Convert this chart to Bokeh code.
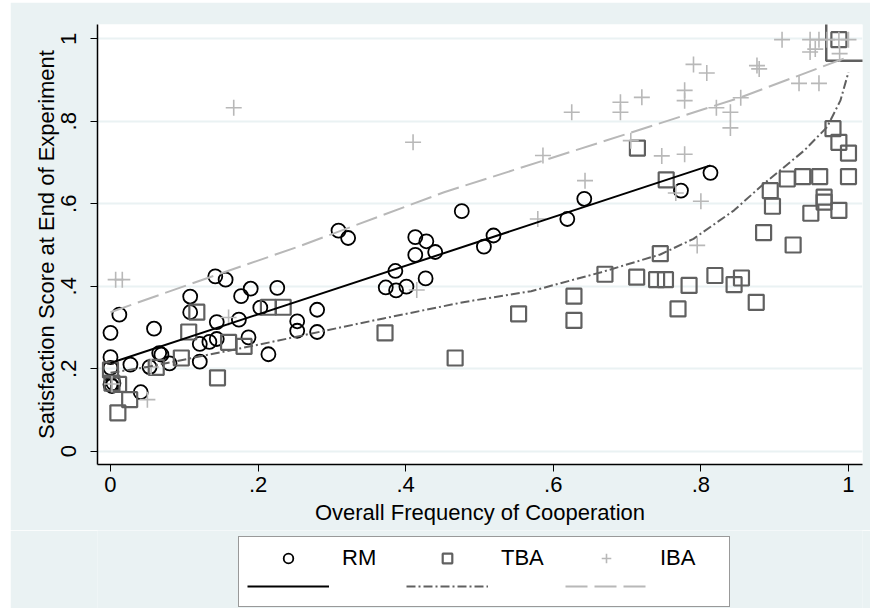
from bokeh.plotting import figure
from bokeh.layouts import column
from bokeh.models import Range1d, FixedTicker, CustomJSTickFormatter, Legend, LegendItem
from bokeh.embed import file_html
from bokeh.resources import INLINE

FONT = "Liberation Sans"

# ---- data ----
rm_x = [0.0, 0.012, 0.0, 0.0, 0.0, 0.002, 0.004, 0.027, 0.041, 0.053, 0.059, 0.066, 0.069,
        0.080, 0.108, 0.108, 0.121, 0.121, 0.134, 0.144, 0.144, 0.142, 0.156, 0.174, 0.177,
        0.190, 0.187, 0.203, 0.214, 0.226, 0.253, 0.253, 0.280, 0.280, 0.309, 0.322, 0.373,
        0.387, 0.401, 0.386, 0.413, 0.413, 0.428, 0.440, 0.427, 0.476, 0.506, 0.519, 0.619,
        0.642, 0.773, 0.813]
rm_y = [0.287, 0.331, 0.228, 0.202, 0.162, 0.158, 0.165, 0.210, 0.143, 0.204, 0.297, 0.238, 0.234,
        0.213, 0.375, 0.337, 0.260, 0.217, 0.265, 0.272, 0.313, 0.424, 0.416, 0.319, 0.376,
        0.394, 0.276, 0.348, 0.235, 0.396, 0.315, 0.292, 0.343, 0.289, 0.535, 0.517, 0.397,
        0.390, 0.399, 0.437, 0.476, 0.519, 0.509, 0.483, 0.419, 0.582, 0.496, 0.523, 0.563,
        0.612, 0.632, 0.675]

tba_x = [0.0, 0.002, 0.011, 0.026, 0.010, 0.062, 0.096, 0.106, 0.117, 0.145, 0.160, 0.181,
         0.214, 0.234, 0.372, 0.467, 0.553, 0.628, 0.628, 0.670, 0.713, 0.740, 0.752, 0.745,
         0.769, 0.753, 0.784, 0.819, 0.845, 0.855, 0.875, 0.885, 0.925, 0.894, 0.897, 0.917,
         0.938, 0.961, 1.0, 0.949, 0.967, 0.967, 0.987, 0.714, 0.979, 0.987, 1.0, 0.987]
tba_y = [0.197, 0.165, 0.162, 0.125, 0.093, 0.203, 0.226, 0.289, 0.337, 0.178, 0.264, 0.254,
         0.349, 0.349, 0.287, 0.226, 0.333, 0.376, 0.317, 0.429, 0.422, 0.416, 0.416, 0.479,
         0.345, 0.658, 0.402, 0.426, 0.404, 0.420, 0.361, 0.530, 0.500, 0.632, 0.594, 0.660,
         0.666, 0.666, 0.666, 0.577, 0.616, 0.604, 0.584, 0.735, 0.782, 0.749, 0.723, 0.998]
tba_big_x = [0.999]
tba_big_y = [0.999]

iba_x = [0.007, 0.016, 0.167, 0.002, 0.050, 0.055, 0.160, 0.410, 0.415, 0.579, 0.586, 0.625,
         0.643, 0.691, 0.691, 0.720, 0.705, 0.747, 0.778, 0.778, 0.778, 0.790, 0.808, 0.821,
         0.840, 0.840, 0.854, 0.876, 0.879, 0.910, 0.933, 0.960, 0.948, 0.960, 0.948, 0.955,
         0.971, 0.987, 1.0, 0.988, 0.766, 0.800, 0.795]
iba_y = [0.416, 0.416, 0.833, 0.163, 0.125, 0.204, 0.324, 0.749, 0.391, 0.563, 0.717, 0.822,
         0.656, 0.846, 0.822, 0.858, 0.753, 0.716, 0.720, 0.875, 0.850, 0.938, 0.917, 0.833,
         0.822, 0.784, 0.857, 0.935, 0.927, 0.998, 0.892, 0.892, 0.998, 0.998, 0.968, 0.975,
         0.998, 0.998, 0.998, 0.964, 0.626, 0.606, 0.499]

rm_fit_x = [0.0, 0.813]
rm_fit_y = [0.214, 0.693]
tba_fit_x = [0.0, 0.052, 0.2, 0.37, 0.48, 0.57, 0.665, 0.745, 0.79, 0.845, 0.885, 0.94, 0.971, 0.989, 1.0]
tba_fit_y = [0.19, 0.205, 0.258, 0.322, 0.362, 0.388, 0.434, 0.477, 0.515, 0.584, 0.648, 0.729, 0.786, 0.85, 0.919]
iba_fit_x = [0.0, 0.122, 0.253, 0.452, 0.587, 0.664, 0.854, 0.998]
iba_fit_y = [0.337, 0.414, 0.495, 0.628, 0.705, 0.749, 0.858, 0.955]

tick_values = [0, 0.2, 0.4, 0.6, 0.8, 1]
series_labels = ["RM", "TBA", "IBA"]
x_title = "Overall Frequency of Cooperation"
y_title = "Satisfaction Score at End of Experiment"

# ---- styles ----
BG = "#eaf2f3"
C_RM = "#000000"
C_TBA = "#606060"
C_IBA = "#b8b8b8"
FS = "22px"
RM_STYLE = dict(marker="circle", size=14, fill_color=None, line_color=C_RM, line_width=1.8)
TBA_STYLE = dict(marker="square", size=15, fill_color=None, line_color=C_TBA, line_width=2.2)
IBA_STYLE = dict(marker="cross", size=16, fill_color=None, line_color=C_IBA, line_width=1.6)
RM_LINE = dict(line_color=C_RM, line_width=2)
TBA_LINE = dict(line_color=C_TBA, line_width=2, line_dash="9 3 2 3")
IBA_LINE = dict(line_color=C_IBA, line_width=2, line_dash="22 7")

BORDER_L, BORDER_R = 87, 8

# ---- main plot ----
p = figure(width=860, height=528, output_backend="svg", toolbar_location=None,
           x_range=Range1d(-0.0176, 1.019), y_range=Range1d(-0.0323, 1.0347),
           min_border_left=BORDER_L, min_border_right=BORDER_R,
           min_border_top=22, min_border_bottom=66, margin=(2, 0, 0, 10))
p.background_fill_color = "white"
p.border_fill_color = BG
p.outline_line_color = None
p.xgrid.visible = False
p.ygrid.grid_line_color = BG
p.ygrid.grid_line_width = 2
p.ygrid.ticker = FixedTicker(ticks=tick_values)

fmt = CustomJSTickFormatter(code="""
if (Math.abs(tick) < 1e-9) return '0';
if (Math.abs(tick - 1) < 1e-9) return '1';
return tick.toFixed(1).slice(1);
""")
for ax in (p.xaxis[0], p.yaxis[0]):
    ax.ticker = FixedTicker(ticks=tick_values)
    ax.formatter = fmt
    ax.major_tick_out = 7
    ax.major_tick_in = 0
    ax.minor_tick_line_color = None
    ax.major_tick_line_color = "black"
    ax.major_tick_line_width = 1
    ax.axis_line_color = "black"
    ax.axis_line_width = 1.5
    ax.major_label_text_font = FONT
    ax.major_label_text_font_size = FS
    ax.major_label_text_color = "black"
    ax.axis_label_text_font = FONT
    ax.axis_label_text_font_size = FS
    ax.axis_label_text_font_style = "normal"
    ax.axis_label_text_color = "black"

p.xaxis.axis_label = x_title
p.yaxis.axis_label = y_title
p.xaxis.major_label_standoff = 5
p.xaxis.axis_label_standoff = 5
p.yaxis.major_label_standoff = 14
p.yaxis.axis_label_standoff = 0
p.yaxis.major_label_orientation = "vertical"

p.scatter(rm_x, rm_y, **RM_STYLE)
p.scatter(tba_x, tba_y, **TBA_STYLE)
p.scatter(tba_big_x, tba_big_y, marker="square", size=43, fill_color=None,
          line_color=C_TBA, line_width=2.5)
p.scatter(iba_x, iba_y, **IBA_STYLE)
p.line(rm_fit_x, rm_fit_y, **RM_LINE)
p.line(tba_fit_x, tba_fit_y, **TBA_LINE)
p.line(iba_fit_x, iba_fit_y, **IBA_LINE)

# ---- legend strip: same series drawn with ranges that keep them out of view ----
q = figure(width=860, height=78, output_backend="svg", toolbar_location=None,
           x_range=Range1d(5, 6), y_range=Range1d(5, 6),
           x_axis_location=None, y_axis_location=None,
           min_border_left=BORDER_L, min_border_right=BORDER_R,
           min_border_top=0, min_border_bottom=0, margin=(0, 0, 0, 10))
q.background_fill_color = BG
q.border_fill_color = BG
q.outline_line_color = None
q.grid.visible = False
k_rm = q.scatter(rm_x, rm_y, **RM_STYLE)
k_tba = q.scatter(tba_x, tba_y, **TBA_STYLE)
k_iba = q.scatter(iba_x, iba_y, **IBA_STYLE)
k_rml = q.line(rm_fit_x, rm_fit_y, **RM_LINE)
k_tbal = q.line(tba_fit_x, tba_fit_y, **TBA_LINE)
k_ibal = q.line(iba_fit_x, iba_fit_y, **IBA_LINE)

legend = Legend(items=[
    LegendItem(label=series_labels[0], renderers=[k_rm]),
    LegendItem(label=series_labels[1], renderers=[k_tba]),
    LegendItem(label=series_labels[2], renderers=[k_iba]),
    LegendItem(label="", renderers=[k_rml]),
    LegendItem(label="", renderers=[k_tbal]),
    LegendItem(label="", renderers=[k_ibal]),
], orientation="horizontal", ncols=3, location=(141, 1))
legend.glyph_width = 82
legend.glyph_height = 24
legend.label_height = 24
legend.label_width = 61
legend.label_standoff = 13
legend.spacing = 3
legend.padding = 8
legend.margin = 0
legend.label_text_font = FONT
legend.label_text_font_size = FS
legend.label_text_color = "black"
legend.border_line_color = "#333333"
legend.border_line_width = 1.5
legend.background_fill_color = "white"
legend.background_fill_alpha = 1
q.add_layout(legend)

layout = column(p, q, spacing=0)
open("out.html", "w").write(file_html(layout, INLINE))
